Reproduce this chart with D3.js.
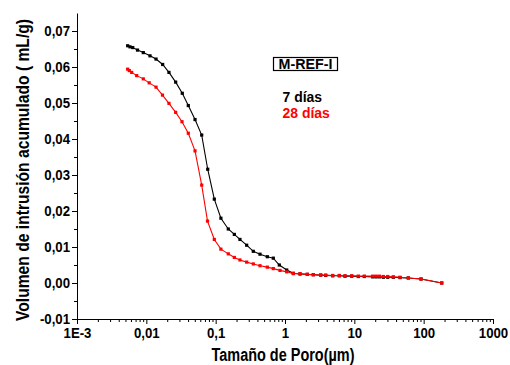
<!DOCTYPE html>
<html>
<head>
<meta charset="utf-8">
<script src="https://cdn.jsdelivr.net/npm/d3@7/dist/d3.min.js"></script>
<style>
  html, body { margin: 0; padding: 0; background: #fff; }
  text { font-family: "Liberation Sans", Arial, Helvetica, sans-serif; font-weight: bold; }
</style>
</head>
<body>
<svg id="chart" width="510" height="365"></svg>
<script>
// Pore size (µm) and cumulative intrusion volume (mL/g), 7 days of curing
const poreSize7 = [0.00538, 0.00581, 0.00636, 0.00746, 0.00904, 0.0113, 0.0138, 0.0172, 0.0212, 0.0265,
  0.0330, 0.0403, 0.0504, 0.0629, 0.0768, 0.0956, 0.119, 0.152, 0.186, 0.224,
  0.280, 0.349, 0.436, 0.556, 0.678, 0.828, 1.059, 1.318, 1.646, 2.098,
  2.561, 3.273, 3.864, 4.875, 6.073, 7.338, 9.167, 11.41, 13.93, 18.42,
  20.55, 22.93, 26.18, 30.30, 36.49, 45.60, 60.05, 91.6, 182.2];
const volume7 = [0.0659, 0.0656, 0.0654, 0.0647, 0.0640, 0.0631, 0.0622, 0.0607, 0.0585, 0.0558,
  0.0527, 0.0493, 0.0454, 0.0411, 0.0316, 0.0233, 0.0180, 0.0150, 0.0135, 0.0121,
  0.0105, 0.0088, 0.0080, 0.0073, 0.0069, 0.0050, 0.0036, 0.0027, 0.0025, 0.0024,
  0.0023, 0.0022, 0.0021, 0.0020, 0.0020, 0.0019, 0.0019, 0.0018, 0.0018, 0.0017,
  0.0017, 0.0017, 0.0016, 0.0016, 0.0016, 0.0015, 0.0014, 0.0011, 0.0000];

// Same sample after 28 days of curing
const poreSize28 = [0.00538, 0.00568, 0.00615, 0.00726, 0.00904, 0.0110, 0.0138, 0.0171, 0.0212, 0.0265,
  0.0327, 0.0403, 0.0504, 0.0629, 0.0763, 0.0956, 0.119, 0.152, 0.186, 0.224,
  0.280, 0.349, 0.436, 0.556, 0.678, 0.847, 1.059, 1.318, 1.646, 2.098,
  2.561, 3.273, 3.864, 4.875, 6.073, 7.338, 9.167, 11.41, 13.93, 18.42,
  20.55, 22.93, 26.18, 30.30, 36.49, 45.60, 60.05, 91.6, 182.2];
const volume28 = [0.0594, 0.0590, 0.0585, 0.0576, 0.0567, 0.0556, 0.0544, 0.0522, 0.0499, 0.0474,
  0.0448, 0.0416, 0.0367, 0.0272, 0.0172, 0.0121, 0.0094, 0.0081, 0.0071, 0.0064,
  0.0058, 0.0053, 0.0048, 0.0044, 0.0040, 0.0035, 0.0031, 0.0026, 0.0026, 0.0024,
  0.0023, 0.0022, 0.0022, 0.0021, 0.0021, 0.0020, 0.0020, 0.0019, 0.0019, 0.0019,
  0.0019, 0.0019, 0.0018, 0.0018, 0.0017, 0.0016, 0.0014, 0.0011, 0.0000];

const xTicks = [1e-3, 1e-2, 1e-1, 1, 10, 100, 1000];
const xTickLabels = ["1E-3", "0,01", "0,1", "1", "10", "100", "1000"];
const yTicks = [-0.01, 0, 0.01, 0.02, 0.03, 0.04, 0.05, 0.06, 0.07];
const yTickLabels = ["-0,01", "0,00", "0,01", "0,02", "0,03", "0,04", "0,05", "0,06", "0,07"];

const series = [
  { name: "7 días", color: "#000000", x: poreSize7, y: volume7 },
  { name: "28 días", color: "#ff0000", x: poreSize28, y: volume28 }
];

const svg = d3.select("#chart");
const plotLeft = 77, plotRight = 493, plotTop = 13, plotBottom = 319;

const x = d3.scaleLog().domain([1e-3, 1000]).range([plotLeft, plotRight]);
const y = d3.scaleLinear().domain([-0.01, 0.075]).range([plotBottom, plotTop]);

// squeeze text horizontally a little, like the narrow bold lettering of the plot
function squeeze(sel, k) {
  sel.each(function () {
    const w = this.getComputedTextLength();
    d3.select(this).attr("textLength", w * k).attr("lengthAdjust", "spacingAndGlyphs");
  });
}

// minor ticks
const xMinor = [];
for (let e = -3; e < 3; e++) for (let m = 2; m <= 9; m++) xMinor.push(m * Math.pow(10, e));
const yMinor = d3.range(-0.005, 0.07, 0.01);

svg.append("g").attr("transform", `translate(0,${plotBottom})`)
  .call(d3.axisBottom(x).tickValues(xMinor).tickSize(3).tickFormat(""))
  .call(g => g.select(".domain").remove());
svg.append("g").attr("transform", `translate(${plotLeft},0)`)
  .call(d3.axisLeft(y).tickValues(yMinor).tickSize(3).tickFormat(""))
  .call(g => g.select(".domain").remove());

const xAxis = svg.append("g").attr("transform", `translate(0,${plotBottom})`)
  .call(d3.axisBottom(x).tickValues(xTicks).tickSize(5).tickSizeOuter(0).tickPadding(3)
    .tickFormat((d, i) => xTickLabels[i]));
const yAxis = svg.append("g").attr("transform", `translate(${plotLeft},0)`)
  .call(d3.axisLeft(y).tickValues(yTicks).tickSize(5).tickSizeOuter(0).tickPadding(2)
    .tickFormat((d, i) => yTickLabels[i]));

svg.selectAll(".tick line, .domain").attr("stroke", "#000").attr("stroke-width", 1);
[xAxis, yAxis].forEach(a => a.selectAll("text")
  .attr("fill", "#000").style("font-size", "15px").style("font-weight", "bold")
  .style("font-family", "'Liberation Sans', Arial, sans-serif"));
xAxis.selectAll("text").call(squeeze, 0.88);
yAxis.selectAll("text").call(squeeze, 0.88);

// curves
const line = d3.line().x(d => x(d[0])).y(d => y(d[1]));
series.forEach(s => {
  const pts = s.x.map((v, i) => [v, s.y[i]]);
  const g = svg.append("g");
  g.append("path").datum(pts).attr("d", line)
    .attr("fill", "none").attr("stroke", s.color).attr("stroke-width", 1.1);
  g.selectAll("rect").data(pts).join("rect")
    .attr("x", d => x(d[0]) - 1.6).attr("y", d => y(d[1]) - 1.6)
    .attr("width", 3.2).attr("height", 3.2).attr("fill", s.color);
});

// axis titles
svg.append("text")
  .attr("x", 283).attr("y", 361).attr("text-anchor", "middle")
  .style("font-size", "18px").text("Tamaño de Poro(µm)")
  .attr("textLength", 143).attr("lengthAdjust", "spacingAndGlyphs");
svg.append("text")
  .attr("transform", "translate(29,170) rotate(-90)").attr("text-anchor", "middle")
  .style("font-size", "18px").text("Volumen de intrusión acumulado ( mL/g)")
  .attr("textLength", 302).attr("lengthAdjust", "spacingAndGlyphs");

// sample label and legend
svg.append("rect").attr("x", 273.5).attr("y", 57.5).attr("width", 64).attr("height", 13)
  .attr("fill", "none").attr("stroke", "#000").attr("stroke-width", 1.2);
svg.append("text").attr("x", 305.5).attr("y", 69).attr("text-anchor", "middle")
  .style("font-size", "14px").text("M-REF-I")
  .attr("textLength", 54).attr("lengthAdjust", "spacingAndGlyphs");
series.forEach((s, i) => {
  svg.append("text").attr("x", 282.5).attr("y", 102 + i * 15.5)
    .attr("fill", s.color).style("font-size", "15px").text(s.name)
    .call(squeeze, 0.93);
});
</script>
</body>
</html>
